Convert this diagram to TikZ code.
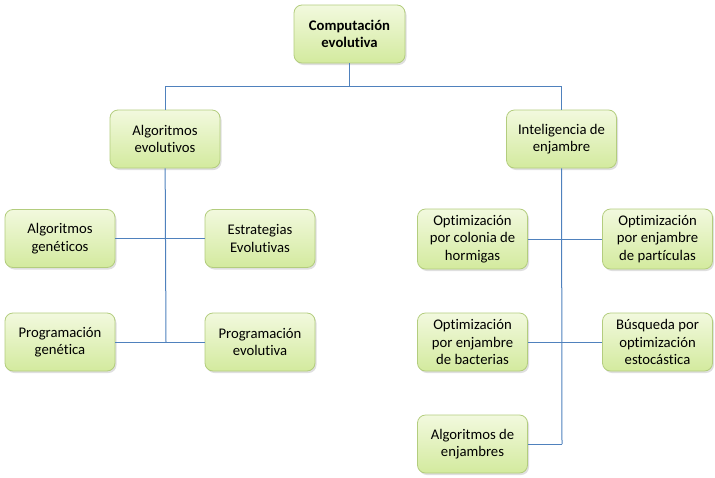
\documentclass[tikz,border=0pt]{standalone}
\usepackage{fontspec}
\setmainfont{Carlito}[Ligatures=NoCommon]
\usepackage{tikz}
\usetikzlibrary{shadows}
\definecolor{boxtop}{HTML}{F2F9DE}
\definecolor{boxbottom}{HTML}{D3EA9E}
\definecolor{boxline}{HTML}{B3CD7E}
\definecolor{linkblue}{HTML}{4F81BD}

\begin{document}
\begin{tikzpicture}[x=1pt, y=-1pt,
    box/.style={rectangle, rounded corners=8pt, draw=boxline, line width=0.8pt,
        top color=boxtop, bottom color=boxbottom, minimum width=110pt, minimum height=58pt,
        align=center, inner sep=2pt, font=\fontsize{14.7}{17.5}\selectfont,
        drop shadow={shadow xshift=1.5pt, shadow yshift=-2pt, opacity=0.25}},
    link/.style={draw=linkblue, line width=1pt}]

    \useasboundingbox (0,0) rectangle (715,477);

    % === Root ===
    \node[box, minimum width=111pt, font=\fontsize{14.7}{17.5}\selectfont\bfseries] (root) at (349.5,34) {Computación\\evolutiva};

    % === Second level ===
    \node[box] (evo) at (165,139) {Algoritmos\\evolutivos};
    \node[box] (swarm) at (561.5,139) {Inteligencia de\\enjambre};

    % === Evolutionary algorithms ===
    \node[box] (ag) at (60,238.5) {Algoritmos\\genéticos};
    \node[box] (ee) at (260,238.5) {Estrategias\\Evolutivas};
    \node[box] (pg) at (60,342) {Programación\\genética};
    \node[box] (pe) at (260,342) {Programación\\evolutiva};

    % === Swarm intelligence ===
    \node[box, minimum height=60pt] (ach) at (472.5,239) {Optimización\\por colonia de\\hormigas};
    \node[box, minimum height=60pt] (pso) at (657.5,239) {Optimización\\por enjambre\\de partículas};
    \node[box] (bfo) at (472.5,342) {Optimización\\por enjambre\\de bacterias};
    \node[box] (bso) at (657.5,342) {Búsqueda por\\optimización\\estocástica};
    \node[box] (alg) at (472.5,444) {Algoritmos de\\enjambres};

    % Junction points
    \coordinate (bus) at (349.5,86);
    \coordinate (evoend) at (166,342);
    \coordinate (swarmend) at (562,444);

    % === Connectors ===
    \draw[link] (root) -- (bus);
    \draw[link] (bus) -| (evo);
    \draw[link] (bus) -| (swarm);

    \draw[link] (evo) -- (evoend);
    \draw[link] (ag) -- (ee);
    \draw[link] (pg) -- (pe);

    \draw[link] (swarm) -- (swarmend);
    \draw[link] (ach) -- (pso);
    \draw[link] (bfo) -- (bso);
    \draw[link] (alg) -- (swarmend);

\end{tikzpicture}
\end{document}
